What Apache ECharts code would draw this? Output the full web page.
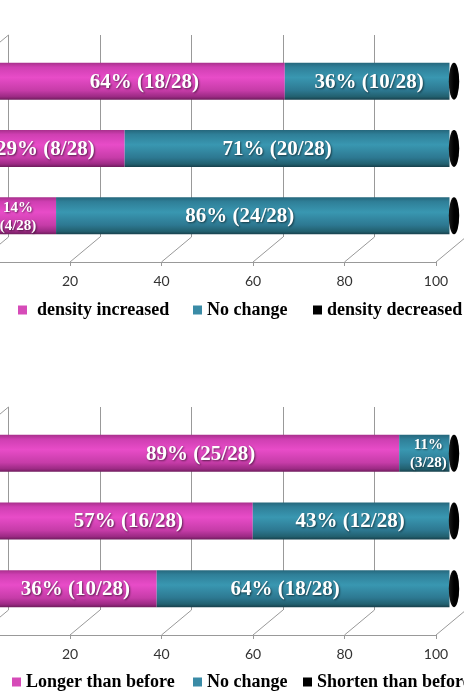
<!DOCTYPE html>
<html>
<head>
<meta charset="utf-8">
<script src="https://cdn.jsdelivr.net/npm/echarts@6/dist/echarts.min.js"></script>
<style>
html,body{margin:0;padding:0;background:#fff;}
#chart{width:464px;height:698px;}
</style>
</head>
<body>
<div id="chart"></div>
<script>
// ---------- data ----------
const categories = ['Group 1', 'Group 2', 'Group 3'];
const xTicks = [0, 20, 40, 60, 80, 100];

const c1Names = ['density increased', 'No change', 'density decreased'];
const c1Inc = [64, 29, 14];
const c1NoChange = [36, 71, 86];
const c1Dec = [0, 0, 0];
const c1IncLabels = ['64% (18/28)', '29% (8/28)', '14%\n(4/28)'];
const c1NcLabels = ['36% (10/28)', '71% (20/28)', '86% (24/28)'];

const c2Names = ['Longer than before', 'No change', 'Shorten than before'];
const c2Inc = [89, 57, 36];
const c2NoChange = [11, 43, 64];
const c2Dec = [0, 0, 0];
const c2IncLabels = ['89% (25/28)', '57% (16/28)', '36% (10/28)'];
const c2NcLabels = ['11%\n(3/28)', '43% (12/28)', '64% (18/28)'];

// ---------- style / layout ----------
const AXIS_W = 457.5;
const FRONT_LEFT = -21.5;
const DEPTH = { dx: 30, dy: 25 };
const MID = { dx: 13.5, dy: 12.5 };
const BAR = 37;
const GRID_COLOR = '#999999';
const PINK = '#d64bb8', TEAL = '#3a8ba6', BLACK = '#000';
// horizontal nudges of the value labels (px), as placed in the original
const c1IncNudge = [6, -13, -6], c1NcNudge = [2, -10, -13];
const c2IncNudge = [5, 6, 1], c2NcNudge = [4, -1, -18];

const pinkGrad = new echarts.graphic.LinearGradient(0, 0, 0, 1, [
  { offset: 0, color: '#a8308c' },
  { offset: 0.12, color: '#cf3fb2' },
  { offset: 0.4, color: '#e84cc8' },
  { offset: 0.75, color: '#c63ca8' },
  { offset: 0.92, color: '#9c2a84' },
  { offset: 1, color: '#6e1c5c' }
]);
const tealGrad = new echarts.graphic.LinearGradient(0, 0, 0, 1, [
  { offset: 0, color: '#25677c' },
  { offset: 0.12, color: '#2f7f98' },
  { offset: 0.4, color: '#3997b1' },
  { offset: 0.75, color: '#2d7891' },
  { offset: 0.92, color: '#22606f' },
  { offset: 1, color: '#173f4b' }
]);

const panels = [
  { top: 35, height: 202, legendTop: 300, names: c1Names, inc: c1Inc, nc: c1NoChange, dec: c1Dec,
    incLabels: c1IncLabels, ncLabels: c1NcLabels, incNudge: c1IncNudge, ncNudge: c1NcNudge,
    legendLeft: [18, 193, 313], legendPad: [5, 0, 0] },
  { top: 407, height: 203, legendTop: 672, names: c2Names, inc: c2Inc, nc: c2NoChange, dec: c2Dec,
    incLabels: c2IncLabels, ncLabels: c2NcLabels, incNudge: c2IncNudge, ncNudge: c2NcNudge,
    legendLeft: [12, 193, 303], legendPad: [0, 0, 0] }
];

const grid = [], xAxis = [], yAxis = [], series = [], legend = [];

const labelBase = {
  show: true, position: 'inside', color: '#fff',
  fontFamily: 'Liberation Serif', fontWeight: 'bold', fontSize: 21,
  textShadowColor: 'rgba(0,0,0,0.55)', textShadowBlur: 2, textShadowOffsetX: 1, textShadowOffsetY: 1
};

function yAx(gi) {
  return { type: 'category', gridIndex: gi, data: categories, inverse: true, show: false };
}
function mkGrid(left, top, height) {
  return { left, top, width: AXIS_W, height, containLabel: false, outerBoundsMode: 'none' };
}

panels.forEach((p, k) => {
  const gBack = k * 3, gFront = k * 3 + 1, gMid = k * 3 + 2;
  const frontTop = p.top + DEPTH.dy;
  grid.push(mkGrid(FRONT_LEFT + DEPTH.dx, p.top, p.height));
  grid.push(mkGrid(FRONT_LEFT, frontTop, p.height));
  grid.push(mkGrid(FRONT_LEFT + MID.dx, frontTop - MID.dy, p.height));

  xAxis.push({ type: 'value', gridIndex: gBack, min: 0, max: 100, interval: 20,
    axisLine: { show: false }, axisTick: { show: false }, axisLabel: { show: false },
    splitLine: { show: true, lineStyle: { color: GRID_COLOR, width: 1 } } });
  xAxis.push({ type: 'value', gridIndex: gFront, min: 0, max: 100, interval: 20,
    axisLine: { show: true, lineStyle: { color: GRID_COLOR } },
    axisTick: { show: true, length: 4, lineStyle: { color: GRID_COLOR } },
    axisLabel: { fontFamily: 'Lato', fontSize: 14, color: '#333', margin: 12 },
    splitLine: { show: false } });
  xAxis.push({ type: 'value', gridIndex: gMid, min: 0, max: 100, show: false, splitLine: { show: false } });
  yAxis.push(yAx(gBack), yAx(gFront), yAx(gMid));

  // floor / side-wall diagonals, from each front tick to the matching back tick
  series.push({
    type: 'custom', xAxisIndex: gFront, yAxisIndex: gFront, clip: false, silent: true, z: 1,
    data: xTicks.map(v => [v, 0]),
    renderItem: (params, api) => {
      const cs = params.coordSys;
      const v = api.value(0);
      const px = api.coord([v, 0])[0];
      const bottom = cs.y + cs.height;
      const st = { stroke: GRID_COLOR, lineWidth: 1 };
      const children = [{ type: 'line', shape: { x1: px, y1: bottom, x2: px + DEPTH.dx, y2: bottom - DEPTH.dy }, style: st }];
      if (v === xTicks[0]) {
        children.push({ type: 'line', shape: { x1: px, y1: cs.y, x2: px + DEPTH.dx, y2: cs.y - DEPTH.dy }, style: st });
        children.push({ type: 'line', shape: { x1: px, y1: cs.y, x2: px, y2: bottom }, style: st });
      }
      return { type: 'group', children };
    }
  });

  const mkData = (vals, nudge) => vals.map((v, i) => ({
    value: v,
    label: Object.assign({ offset: [nudge[i], 1] }, v < 20 ? { fontSize: 15, lineHeight: 18 } : {})
  }));

  series.push({
    name: p.names[0], type: 'bar', stack: 's' + k, xAxisIndex: gMid, yAxisIndex: gMid,
    barWidth: BAR, itemStyle: { color: pinkGrad }, data: mkData(p.inc, p.incNudge),
    label: Object.assign({}, labelBase, { formatter: (q) => p.incLabels[q.dataIndex] }),
    emphasis: { disabled: true }, z: 3
  });
  series.push({
    name: p.names[1], type: 'bar', stack: 's' + k, xAxisIndex: gMid, yAxisIndex: gMid,
    barWidth: BAR, itemStyle: { color: tealGrad }, data: mkData(p.nc, p.ncNudge),
    label: Object.assign({}, labelBase, { formatter: (q) => p.ncLabels[q.dataIndex] }),
    emphasis: { disabled: true }, z: 3
  });
  series.push({
    name: p.names[2], type: 'bar', stack: 's' + k, xAxisIndex: gMid, yAxisIndex: gMid,
    barWidth: BAR, itemStyle: { color: BLACK }, data: p.dec,
    emphasis: { disabled: true }, z: 3
  });
  // cylinder end caps at the end of each stacked bar
  series.push({
    type: 'custom', xAxisIndex: gMid, yAxisIndex: gMid, clip: false, silent: true, z: 5,
    data: p.inc.map((v, i) => [v + p.nc[i] + p.dec[i], i]),
    renderItem: (params, api) => {
      const c = api.coord([api.value(0), api.value(1)]);
      const r = BAR / 2;
      return {
        type: 'circle', x: c[0] + 4.5, y: c[1], scaleX: 5.2 / r, scaleY: 1,
        shape: { cx: 0, cy: 0, r: r },
        style: { fill: new echarts.graphic.LinearGradient(0, 0, 1, 0, [
          { offset: 0, color: '#1a1a1a' }, { offset: 0.5, color: '#000' }, { offset: 1, color: '#000' }]) }
      };
    }
  });

  const colors = [PINK, TEAL, BLACK];
  p.names.forEach((n, j) => {
    legend.push({
      left: p.legendLeft[j], top: p.legendTop, padding: 0, selectedMode: false,
      icon: 'rect', itemWidth: 9, itemHeight: 9,
      data: [{ name: n, itemStyle: { color: colors[j] } }],
      textStyle: { fontFamily: 'Liberation Serif', fontWeight: 'bold', fontSize: 18, color: '#000',
        lineHeight: 20, padding: [0, 0, 0, p.legendPad[j]] }
    });
  });
});

const chart = echarts.init(document.getElementById('chart'), null, { renderer: 'canvas' });
chart.setOption({
  backgroundColor: '#fff',
  animation: false,
  grid, xAxis, yAxis, series, legend
});
</script>
</body>
</html>
